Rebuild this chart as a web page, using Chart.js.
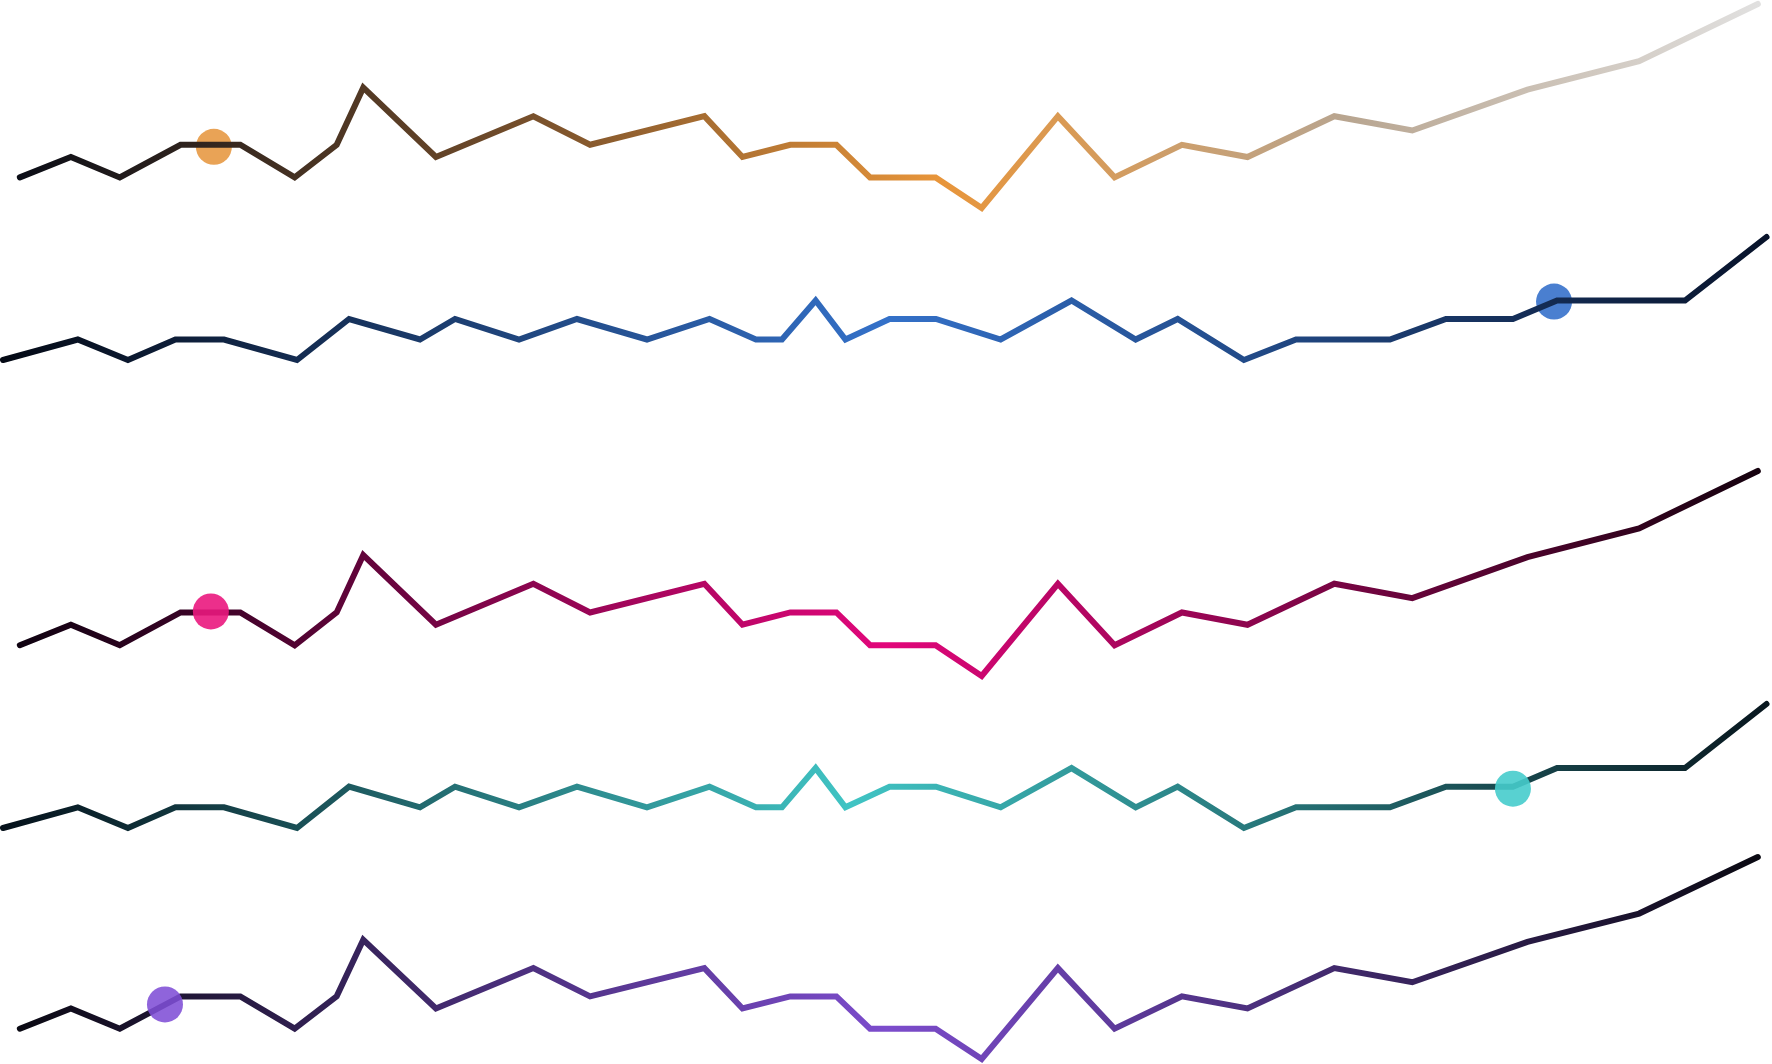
<!DOCTYPE html>
<html>
<head>
<meta charset="utf-8">
<script src="https://cdn.jsdelivr.net/npm/chart.js@4.4.1/dist/chart.umd.min.js"></script>
<style>
  html, body { margin: 0; padding: 0; background: #ffffff; overflow: hidden; }
  body { width: 1772px; height: 1064px; position: relative; }
  canvas { position: absolute; left: 0; }
</style>
</head>
<body>
<script>
// series "A" (panels 1, 3, 5): 27 points, x in % of range, y in 0-100
const seriesADays = [1.12, 4.0, 6.76, 10.19, 13.56, 16.63, 19.0, 20.5, 24.6, 30.1, 33.3,
    39.75, 41.9, 44.6, 47.2, 49.1, 52.8, 55.4, 59.7, 62.9, 66.7, 70.4, 75.3, 79.7, 86.2, 92.5, 99.2];
const seriesAValues = [15, 25, 15, 31, 31, 15, 31, 59, 25, 45, 31,
    45, 25, 31, 31, 15, 15, 0, 45, 15, 31, 25, 45, 38, 58, 72, 100];

// series "B" (panels 2, 4): 31 points, y in 0-6
const seriesBDays = [0.17, 4.39, 7.22, 9.9, 12.64, 16.76, 19.7, 23.7, 25.68, 29.29, 32.56,
    36.51, 40.04, 42.66, 44.13, 46.03, 47.71, 50.2, 52.82, 56.47, 60.47, 64.09,
    66.46, 70.2, 73.14, 78.44, 81.6, 85.38, 87.87, 95.09, 99.69];
const seriesBValues = [0, 1, 0, 1, 1, 0, 2, 1, 2, 1, 2,
    1, 2, 1, 1, 2.9, 1, 2, 2, 1, 2.9, 1,
    2, 0, 1, 1, 2, 2, 2.9, 2.9, 6];

// highlighted point on each panel
const markerDays = [12.07, 87.7, 11.9, 85.38, 9.31];
const markerValues = [30, 2.85, 31.5, 1.9, 27];

const panels = [
    { series: 'A', top: -4, height: 220, stops: ['#070b16', '#6e4a2a', '#e8953a', '#b8a590', '#e2e2e2'], stopPos: [0, 0.28, 0.53, 0.76, 1],
      marker: '#e9a356', markerOnTop: false },
    { series: 'B', top: 229, height: 139, stops: ['#040914', '#3471c9', '#08132a'], stopPos: [0, 0.5, 1],
      marker: '#4a7fd0', markerOnTop: false },
    { series: 'A', top: 463, height: 221, stops: ['#0a020e', '#e2077b', '#12020d'], stopPos: [0, 0.5, 1],
      marker: 'rgba(234, 24, 126, 0.9)', markerOnTop: true },
    { series: 'B', top: 696, height: 140, stops: ['#05101a', '#40c4c4', '#08161e'], stopPos: [0, 0.48, 1],
      marker: 'rgba(70, 204, 204, 0.9)', markerOnTop: true },
    { series: 'A', top: 849, height: 218, stops: ['#08080f', '#7c4ccc', '#08080f'], stopPos: [0, 0.5, 1],
      marker: 'rgba(128, 78, 214, 0.88)', markerOnTop: true },
];

const PAD = 8;

panels.forEach((p, i) => {
    const canvas = document.createElement('canvas');
    canvas.width = 1772;
    canvas.height = p.height;
    canvas.style.top = p.top + 'px';
    canvas.style.width = '1772px';
    canvas.style.height = p.height + 'px';
    document.body.appendChild(canvas);

    const days = p.series === 'A' ? seriesADays : seriesBDays;
    const vals = p.series === 'A' ? seriesAValues : seriesBValues;
    const yMax = p.series === 'A' ? 100 : 6;

    const gradient = (ctx) => {
        const chart = ctx.chart;
        if (!chart.chartArea) return p.stops[0];
        const g = chart.ctx.createLinearGradient(0, 0, chart.width, 0);
        p.stops.forEach((c, k) => g.addColorStop(p.stopPos[k], c));
        return g;
    };

    new Chart(canvas.getContext('2d'), {
        type: 'line',
        data: {
            datasets: [
                {
                    data: days.map((d, k) => ({ x: d, y: vals[k] })),
                    borderColor: gradient,
                    borderWidth: 6,
                    borderCapStyle: 'round',
                    borderJoinStyle: 'miter',
                    tension: 0,
                    pointRadius: 0,
                    fill: false,
                    clip: false,
                    order: 1,
                },
                {
                    data: [{ x: markerDays[i], y: markerValues[i] }],
                    showLine: false,
                    pointRadius: 18,
                    pointBorderWidth: 0,
                    pointBackgroundColor: p.marker,
                    pointBorderColor: 'rgba(0,0,0,0)',
                    clip: false,
                    order: p.markerOnTop ? 0 : 2,
                },
            ],
        },
        options: {
            responsive: false,
            devicePixelRatio: 1,
            animation: false,
            layout: { autoPadding: false, padding: { top: PAD, bottom: PAD, left: 0, right: 0 } },
            plugins: { legend: { display: false }, tooltip: { enabled: false } },
            events: [],
            scales: {
                x: { type: 'linear', min: 0, max: 100, display: false },
                y: { type: 'linear', min: 0, max: yMax, display: false },
            },
        },
    });
});
</script>
</body>
</html>
